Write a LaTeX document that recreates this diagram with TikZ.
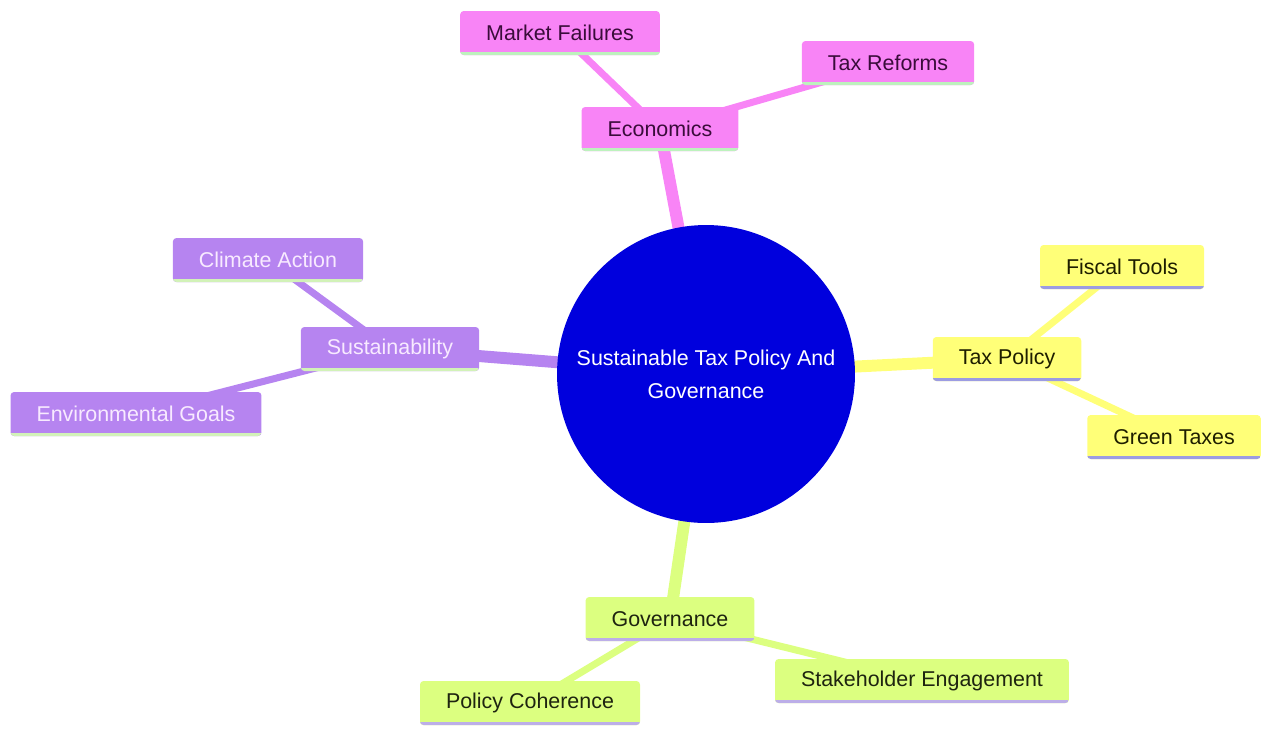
\documentclass[tikz,border=0pt]{standalone}
\usepackage{fontspec}
\setmainfont{Liberation Sans}
\usetikzlibrary{backgrounds}

\definecolor{econfill}{HTML}{F884F6}
\definecolor{econtext}{HTML}{3A0C3A}
\definecolor{econline}{HTML}{BDF2BD}
\definecolor{sustfill}{HTML}{B684F0}
\definecolor{susttext}{HTML}{F8EAFF}
\definecolor{sustline}{HTML}{D2F2B8}
\definecolor{taxfill}{HTML}{FFFF78}
\definecolor{taxtext}{HTML}{1E1E00}
\definecolor{taxline}{HTML}{9C9CE2}
\definecolor{govfill}{HTML}{DCFF80}
\definecolor{govtext}{HTML}{1E2410}
\definecolor{govline}{HTML}{BCAEE8}
\definecolor{rootfill}{HTML}{0000DD}

\tikzset{
  leaf/.style={rectangle, rounded corners=2pt, minimum height=0.88cm,
    inner xsep=0.52cm, font=\fontsize{12.2}{14}\selectfont,
    path picture={\draw[#1, line width=3.4pt]
      (path picture bounding box.south west) -- (path picture bounding box.south east);}},
  econbox/.style={leaf=econline, fill=econfill, text=econtext},
  sustbox/.style={leaf=sustline, fill=sustfill, text=susttext},
  taxbox/.style={leaf=taxline, fill=taxfill, text=taxtext},
  govbox/.style={leaf=govline, fill=govfill, text=govtext},
  rootcirc/.style={circle, fill=rootfill, text=white, minimum size=5.96cm,
    align=center, font=\fontsize{12.2}{18.7}\selectfont},
  trunk/.style={line width=6.8pt},
  twig/.style={line width=4pt}
}

\begin{document}
\begin{tikzpicture}[x=0.02cm, y=-0.02cm]
  \useasboundingbox (0,0) rectangle (1263,728);

  % centre
  \node[rootcirc] (root) at (706,374) {Sustainable Tax Policy And\\Governance};

  % economics branch
  \node[econbox] (econ) at (660,129) {Economics};
  \node[econbox] (mfail) at (560,33) {Market Failures};
  \node[econbox] (reform) at (888,63) {Tax Reforms};

  % sustainability branch
  \node[sustbox] (sust) at (390,349) {Sustainability};
  \node[sustbox] (climate) at (268,260) {Climate Action};
  \node[sustbox] (envgoal) at (136,414) {Environmental Goals};

  % tax policy branch
  \node[taxbox] (taxpol) at (1007,359) {Tax Policy};
  \node[taxbox] (fiscal) at (1122,267) {Fiscal Tools};
  \node[taxbox] (green) at (1174,437) {Green Taxes};

  % governance branch
  \node[govbox] (gov) at (670,619) {Governance};
  \node[govbox] (coher) at (530,703) {Policy Coherence};
  \node[govbox] (stake) at (922,681) {Stakeholder Engagement};

  \begin{scope}[on background layer]
    \draw[trunk, econfill] (root.center) -- (econ.center);
    \draw[twig, econfill] (econ.center) -- (mfail.center);
    \draw[twig, econfill] (econ.center) -- (reform.center);
    \draw[trunk, sustfill] (root.center) -- (sust.center);
    \draw[twig, sustfill] (sust.center) -- (climate.center);
    \draw[twig, sustfill] (sust.center) -- (envgoal.center);
    \draw[trunk, taxfill] (root.center) -- (taxpol.center);
    \draw[twig, taxfill] (taxpol.center) -- (fiscal.center);
    \draw[twig, taxfill] (taxpol.center) -- (green.center);
    \draw[trunk, govfill] (root.center) -- (gov.center);
    \draw[twig, govfill] (gov.center) -- (coher.center);
    \draw[twig, govfill] (gov.center) -- (stake.center);
  \end{scope}
\end{tikzpicture}
\end{document}
